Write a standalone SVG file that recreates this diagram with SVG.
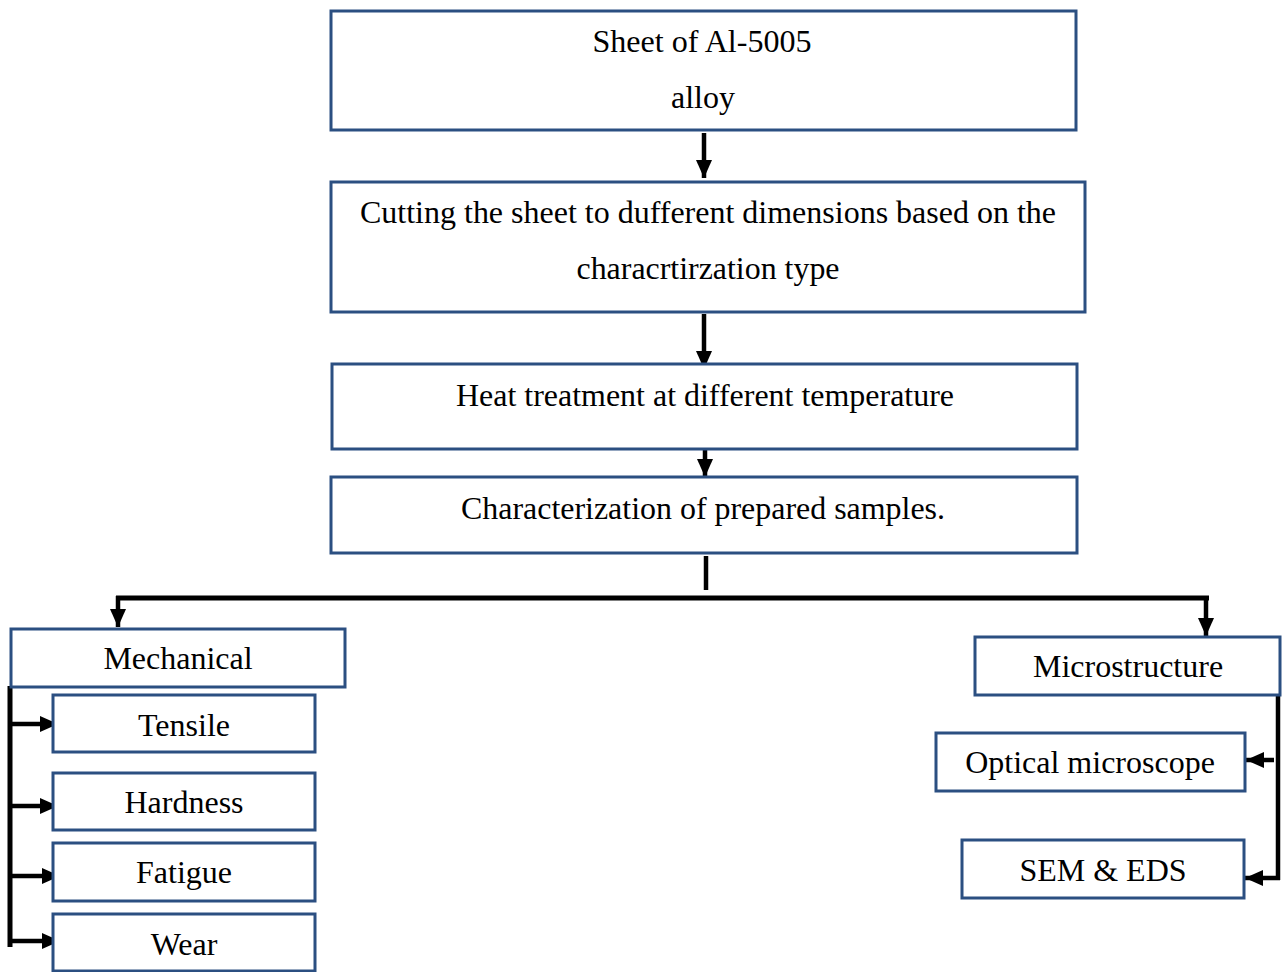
<svg xmlns="http://www.w3.org/2000/svg" width="1282" height="972" viewBox="0 0 1282 972">
<style>
.box{fill:#fff;stroke:#2b4f81;stroke-width:3}
.t{font-family:"Liberation Serif","Times New Roman",serif;font-size:32px;fill:#000;text-anchor:middle}
.c{stroke:#000;stroke-width:4.5;fill:none}
.ca{stroke:#000;stroke-width:4.5;fill:none;marker-end:url(#ah)}
</style>
<defs>
<marker id="ah" markerUnits="userSpaceOnUse" markerWidth="20" markerHeight="16" refX="18" refY="8" orient="auto">
<path d="M0,0 L18,8 L0,16 Z" fill="#000"/>
</marker>
</defs>
<rect width="1282" height="972" fill="#fff"/>
<g id="connectors">
<line class="ca" x1="704" y1="133" x2="704" y2="178"/>
<line class="ca" x1="704" y1="314" x2="704" y2="369"/>
<line class="ca" x1="705" y1="448" x2="705" y2="477"/>
<line class="c" x1="706" y1="556" x2="706" y2="590"/>
<line class="c" x1="116" y1="598" x2="1209" y2="598" style="stroke-width:5"/>
<line class="ca" x1="118" y1="596" x2="118" y2="627"/>
<line class="ca" x1="1206" y1="596" x2="1206" y2="636"/>
<line class="c" x1="10" y1="686" x2="10" y2="947" style="stroke-width:5"/>
<line class="ca" x1="8" y1="724" x2="58" y2="724"/>
<line class="ca" x1="8" y1="806" x2="58" y2="806"/>
<line class="ca" x1="8" y1="876" x2="60" y2="876"/>
<line class="ca" x1="8" y1="941" x2="60" y2="941"/>
<line class="c" x1="1278" y1="695" x2="1278" y2="880"/>
<line class="ca" x1="1274" y1="760" x2="1246" y2="760"/>
<line class="ca" x1="1280" y1="878" x2="1245" y2="878"/>
</g>
<g id="n1"><rect class="box" x="331" y="11" width="745" height="119"/>
<text class="t" x="702" y="52" textLength="219" lengthAdjust="spacingAndGlyphs">Sheet of Al-5005</text>
<text class="t" x="703" y="108">alloy</text></g>
<g id="n2"><rect class="box" x="331" y="182" width="754" height="130"/>
<text class="t" x="708" y="223" textLength="696" lengthAdjust="spacingAndGlyphs">Cutting the sheet to dufferent dimensions based on the</text>
<text class="t" x="708" y="279" textLength="263" lengthAdjust="spacingAndGlyphs">characrtirzation type</text></g>
<g id="n3"><rect class="box" x="332" y="364" width="745" height="85"/>
<text class="t" x="705" y="406" textLength="498" lengthAdjust="spacingAndGlyphs">Heat treatment at different temperature</text></g>
<g id="n4"><rect class="box" x="331" y="477" width="746" height="76"/>
<text class="t" x="703" y="519" textLength="484" lengthAdjust="spacingAndGlyphs">Characterization of prepared samples.</text></g>
<g id="n5"><rect class="box" x="11" y="629" width="334" height="58"/>
<text class="t" x="178" y="669">Mechanical</text></g>
<g id="n6"><rect class="box" x="53" y="695" width="262" height="57"/>
<text class="t" x="184" y="736">Tensile</text></g>
<g id="n7"><rect class="box" x="53" y="773" width="262" height="57"/>
<text class="t" x="184" y="813">Hardness</text></g>
<g id="n8"><rect class="box" x="53" y="843" width="262" height="58"/>
<text class="t" x="184" y="883">Fatigue</text></g>
<g id="n9"><rect class="box" x="53" y="914" width="262" height="57"/>
<text class="t" x="184" y="955">Wear</text></g>
<g id="n10"><rect class="box" x="975" y="637" width="305" height="58"/>
<text class="t" x="1128" y="677">Microstructure</text></g>
<g id="n11"><rect class="box" x="936" y="733" width="309" height="58"/>
<text class="t" x="1090" y="773">Optical microscope</text></g>
<g id="n12"><rect class="box" x="962" y="840" width="282" height="58"/>
<text class="t" x="1103" y="881">SEM &amp; EDS</text></g>
</svg>
